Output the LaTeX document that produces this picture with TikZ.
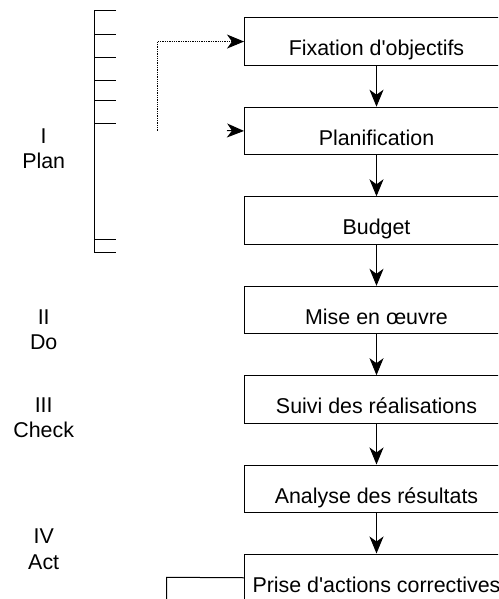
\documentclass[tikz,border=0pt]{standalone}
\usepackage{fontspec}
\setmainfont{Liberation Sans}
\usetikzlibrary{arrows.meta}
\begin{document}
\begin{tikzpicture}[x=1pt,y=-1pt,
  line width=1pt,
  every node/.style={font=\fontsize{21.4}{25.5}\selectfont},
  box/.style={draw, rectangle, minimum width=264pt, minimum height=47.5pt,
    inner xsep=0pt, inner ysep=0pt, text height=38pt, text depth=9.5pt, anchor=north west},
  lbl/.style={align=center, anchor=base, inner sep=0pt},
  arr/.style={-{Stealth[length=17pt,width=14pt,inset=5pt]}},
  dotarr/.style={dash pattern=on 1.3pt off 1pt, -{Stealth[length=17pt,width=14pt,inset=5pt]}}
]
\useasboundingbox (0,0) rectangle (498,599);
\clip (0,0) rectangle (498,599);

% boxes
\node[box] (b1) at (244,17.3) {Fixation d\textquotesingle objectifs};
\node[box] (b2) at (244,106.7) {Planification};
\node[box] (b3) at (244,196.3) {Budget};
\node[box] (b4) at (244,285.8) {Mise en œuvre};
\node[box] (b5) at (244,375.2) {Suivi des réalisations};
\node[box] (b6) at (244,464.5) {Analyse des résultats};
\node[box] (b7) at (244,553.5) {Prise d\textquotesingle actions correctives};

% vertical arrows
\draw[arr] (b1.south) -- (b2.north);
\draw[arr] (b2.south) -- (b3.north);
\draw[arr] (b3.south) -- (b4.north);
\draw[arr] (b4.south) -- (b5.north);
\draw[arr] (b5.south) -- (b6.north);
\draw[arr] (b6.south) -- (b7.north);

% dotted feedback arrow
\coordinate (d0) at (157,130.5);
\draw[dotarr] (d0) |- (b1.west);
\coordinate (a2) at (227,130.5);
\draw[arr] (a2) -- (b2.west);

% bottom connector
\coordinate (c7) at (166.7,577.3);
\coordinate (c7b) at (166.7,610);
\draw (c7b) -- (c7) -- (b7.west);

% bracket
\draw (116,11) -- (94.3,11) -- (94.3,252.3) -- (116,252.3);
\foreach \yy in {35,58,80.7,100.3,123.3,239.3}
  \draw (94.3,\yy) -- (116,\yy);

% phase labels (anchored at the baseline of the second line)
\node[lbl] (l1) at (43.7,168.5) {I\\Plan};
\node[lbl] (l2) at (43.7,349.5) {II\\Do};
\node[lbl] (l3) at (43.7,437.7) {III\\Check};
\node[lbl] (l4) at (43.7,569.3) {IV\\Act};
\end{tikzpicture}
\end{document}
